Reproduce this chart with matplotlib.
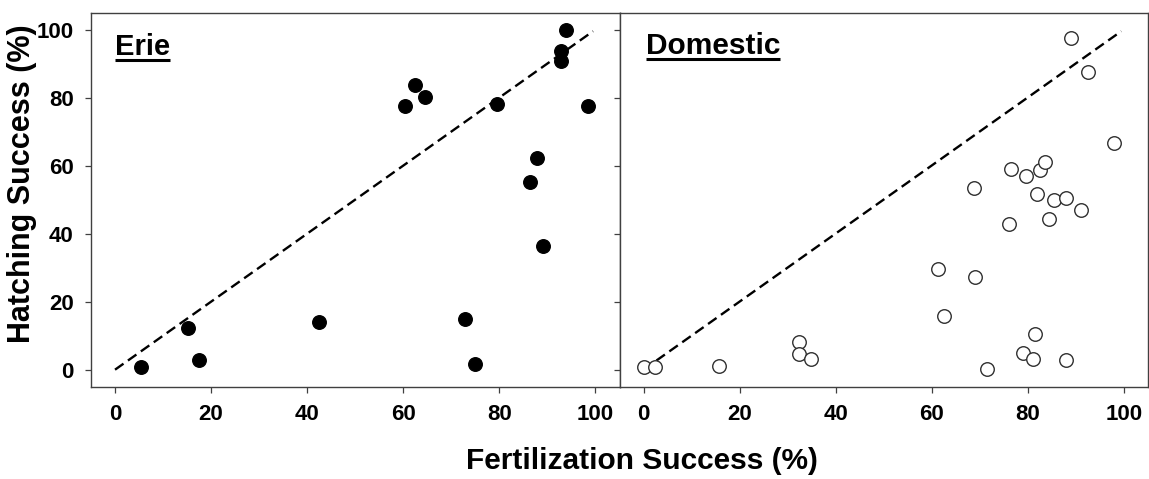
import numpy as np
import matplotlib
matplotlib.use("Agg")
import matplotlib.pyplot as plt
from matplotlib.lines import Line2D

plt.rcParams['font.family'] = ['Liberation Sans', 'DejaVu Sans']
plt.rcParams['font.weight'] = 'bold'

# Erie females: fertilization vs hatching success (%)
erie_fert = [5.5, 15.1, 17.5, 42.5, 60.4, 62.5, 64.6, 79.5, 72.8, 74.9,
             86.3, 87.9, 89.0, 92.8, 92.8, 93.9, 98.5]
erie_hatch = [0.9, 12.2, 2.8, 14.1, 77.5, 83.6, 80.2, 78.0, 14.8, 1.7,
              55.3, 62.1, 36.5, 93.6, 90.7, 100.0, 77.5]

# Domestic females
dom_fert = [0.0, 2.4, 15.8, 32.4, 32.4, 34.9, 61.4, 62.5, 68.8, 69.0,
            71.5, 76.1, 76.5, 79.6, 79.0, 81.1, 81.5, 82.0, 82.6, 83.6,
            84.5, 85.5, 88.0, 88.0, 89.0, 91.1, 92.6, 98.0]
dom_hatch = [0.7, 0.9, 1.2, 8.0, 4.6, 3.2, 29.5, 15.9, 53.5, 27.2,
             0.3, 42.8, 58.9, 56.8, 4.8, 3.1, 10.5, 51.6, 58.8, 61.0,
             44.2, 50.0, 50.5, 2.8, 97.6, 47.0, 87.5, 66.6]

# 1:1 reference line
ref_line = [0, 99.5]
ticks = [0, 20, 40, 60, 80, 100]

W, H = 1149, 479
fig = plt.figure(figsize=(W / 100, H / 100), dpi=100)

bottom = 1 - 386.7 / H
height = (386.7 - 12.5) / H
ax1 = fig.add_axes([91 / W, bottom, 528.5 / W, height])
ax2 = fig.add_axes([619.5 / W, bottom, 528.2 / W, height])

edge = '#404040'
for ax in (ax1, ax2):
    ax.plot(ref_line, ref_line, color='black', lw=1.7, dashes=(4.4, 2.3), zorder=1)
    ax.set_xlim(-5, 105)
    ax.set_ylim(-5, 105)
    ax.set_xticks(ticks)
    ax.set_yticks(ticks)
    for s in ax.spines.values():
        s.set_color(edge)
        s.set_linewidth(1.0)
    ax.tick_params(direction='out', length=4.5, width=0.9, color=edge,
                   labelsize=16, pad=8)

ax1.scatter(erie_fert, erie_hatch, s=95, color='black', zorder=3)
ax2.scatter(dom_fert, dom_hatch, s=95, facecolor='white', edgecolor='#303030',
            linewidth=1.0, zorder=3)
ax2.tick_params(axis='y', labelleft=False)

for lbl in ax1.get_xticklabels() + ax1.get_yticklabels() + ax2.get_xticklabels():
    lbl.set_fontweight('bold')

t1 = ax1.text(0, 92.5, 'Erie', fontsize=21, fontweight='bold', va='baseline', ha='left')
t2 = ax2.text(0.5, 92.8, 'Domestic', fontsize=21.5, fontweight='bold', va='baseline', ha='left')

fig.text(22 / W, 1 - 184 / H, 'Hatching Success (%)', rotation=90, fontsize=22,
         fontweight='bold', ha='center', va='center')
fig.text(642 / W, 1 - 461 / H, 'Fertilization Success (%)', fontsize=21.5,
         fontweight='bold', ha='center', va='center')

# underline the panel titles
fig.canvas.draw()
r = fig.canvas.get_renderer()
for t in (t1, t2):
    bb = t.get_window_extent(r)
    y = bb.y0 + 1.5
    fig.add_artist(Line2D([bb.x0, bb.x1], [y, y], transform=None,
                          color='black', lw=2.2, solid_capstyle='butt'))

fig.savefig('out.png', dpi=100)
